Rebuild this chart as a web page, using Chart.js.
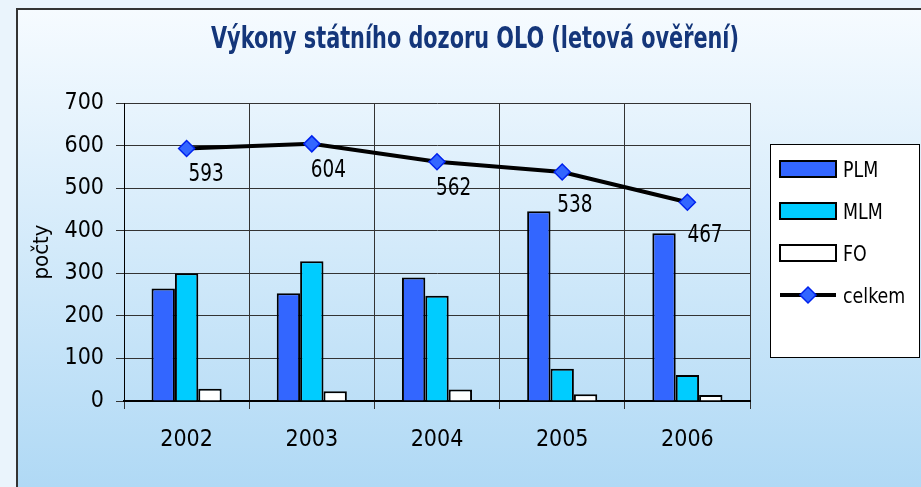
<!DOCTYPE html>
<html lang="cs">
<head>
<meta charset="utf-8">
<title>Výkony státního dozoru OLO</title>
<script src="https://cdn.jsdelivr.net/npm/chart.js@4/dist/chart.umd.min.js"></script>
<style>
  html, body { margin: 0; padding: 0; background: #eaf4fc; }
  canvas { display: block; }
</style>
</head>
<body>
<canvas id="grafVykony" width="921" height="487"></canvas>
<script>
// --- Data ---
const roky = ['2002', '2003', '2004', '2005', '2006'];
const plm = [264, 253, 290, 446, 394];
const mlm = [300, 328, 247, 76, 61];
const fo = [29, 23, 27, 16, 14];
const celkem = [593, 604, 562, 538, 467];
const osaY = { min: 0, max: 700, krok: 100 };
const nadpis = 'Výkony státního dozoru OLO (letová ověření)';

const PISMO = "'DejaVu Sans Condensed', 'Liberation Sans Narrow', sans-serif";

// Text stažený do šířky (úzké písmo)
function uzkyText(ctx, text, x, y, sx, align) {
  ctx.save();
  ctx.translate(x, y);
  ctx.scale(sx, 1);
  ctx.textAlign = align;
  ctx.fillText(text, 0, 0);
  ctx.restore();
}

// --- Pozadí, rámeček a nadpis ---
const pozadi = {
  id: 'pozadi',
  beforeDraw(chart) {
    const ctx = chart.ctx;
    const w = chart.width, h = chart.height;
    ctx.save();
    ctx.fillStyle = '#eaf4fc';
    ctx.fillRect(0, 0, w, h);
    const g = ctx.createLinearGradient(0, 9, 0, h);
    g.addColorStop(0, '#f6fbff');
    g.addColorStop(1, '#b0d9f5');
    ctx.fillStyle = g;
    ctx.fillRect(17, 9, w - 17, h - 9);
    ctx.strokeStyle = '#333333';
    ctx.lineWidth = 2;
    ctx.beginPath();
    ctx.moveTo(17, h);
    ctx.lineTo(17, 9);
    ctx.lineTo(w, 9);
    ctx.stroke();

    ctx.fillStyle = '#14367a';
    ctx.font = 'bold 31px ' + PISMO;
    ctx.textBaseline = 'alphabetic';
    uzkyText(ctx, nadpis, 475, 48, 0.746, 'center');
    ctx.restore();
  }
};

// --- Popisky hodnot u čáry "celkem" ---
const popiskyHodnot = {
  id: 'popiskyHodnot',
  afterDatasetsDraw(chart, args, opts) {
    const ctx = chart.ctx;
    const meta = chart.getDatasetMeta(opts.dataset);
    const data = chart.data.datasets[opts.dataset].data;
    ctx.save();
    ctx.font = '25px ' + PISMO;
    ctx.fillStyle = '#000';
    ctx.textBaseline = 'alphabetic';
    meta.data.forEach((bod, i) => {
      const [dx, dy] = opts.posun[i];
      uzkyText(ctx, String(data[i]), bod.x + dx, bod.y + dy, 0.82, 'left');
    });
    ctx.restore();
  }
};

// --- Legenda v rámečku vpravo ---
const legendaBox = {
  id: 'legendaBox',
  afterDraw(chart, args, opts) {
    const ctx = chart.ctx;
    const { x, y, w, h, krok } = opts;
    ctx.save();
    ctx.fillStyle = '#ffffff';
    ctx.fillRect(x, y, w, h);
    ctx.strokeStyle = '#000';
    ctx.lineWidth = 1;
    ctx.strokeRect(x + 0.5, y + 0.5, w, h);
    ctx.font = '22px ' + PISMO;
    ctx.textBaseline = 'alphabetic';
    chart.data.datasets.forEach((ds, i) => {
      const cy = y + 25 + i * krok;
      if (ds.type === 'line') {
        const r = ds.pointRadius;
        ctx.strokeStyle = ds.borderColor;
        ctx.lineWidth = ds.borderWidth;
        ctx.beginPath();
        ctx.moveTo(x + 10, cy);
        ctx.lineTo(x + 66, cy);
        ctx.stroke();
        ctx.fillStyle = ds.pointBackgroundColor;
        ctx.strokeStyle = ds.pointBorderColor;
        ctx.lineWidth = ds.pointBorderWidth;
        ctx.beginPath();
        ctx.moveTo(x + 38 - r, cy);
        ctx.lineTo(x + 38, cy - r);
        ctx.lineTo(x + 38 + r, cy);
        ctx.lineTo(x + 38, cy + r);
        ctx.closePath();
        ctx.fill();
        ctx.stroke();
      } else {
        ctx.fillStyle = ds.backgroundColor;
        ctx.strokeStyle = '#000';
        ctx.lineWidth = 2;
        ctx.fillRect(x + 10, cy - 8, 56, 16);
        ctx.strokeRect(x + 10, cy - 8, 56, 16);
      }
      ctx.fillStyle = '#000';
      uzkyText(ctx, ds.label, x + 73, cy + 8, 0.88, 'left');
    });
    ctx.restore();
  }
};

const sloupec = (label, data, barva) => ({
  type: 'bar',
  label,
  data,
  backgroundColor: barva,
  borderColor: '#000',
  borderWidth: 2,
  categoryPercentage: 0.56,
  barPercentage: 1.0,
  order: 1
});

new Chart(document.getElementById('grafVykony'), {
  data: {
    labels: roky,
    datasets: [
      sloupec('PLM', plm, '#3366ff'),
      sloupec('MLM', mlm, '#00ccff'),
      sloupec('FO', fo, '#ffffff'),
      {
        type: 'line',
        label: 'celkem',
        data: celkem,
        borderColor: '#000',
        borderWidth: 4,
        pointStyle: 'rectRot',
        pointRadius: 8,
        pointBorderWidth: 1.5,
        pointBackgroundColor: '#3366ff',
        pointBorderColor: '#0022ee',
        tension: 0,
        order: 0
      }
    ]
  },
  options: {
    responsive: false,
    devicePixelRatio: 1,
    animation: false,
    layout: { padding: { left: 28, right: 0, top: 103, bottom: 0 } },
    plugins: {
      legend: { display: false },
      tooltip: { enabled: false },
      title: { display: false },
      popiskyHodnot: {
        dataset: 3,
        posun: [[2, 32], [-1, 33], [-1, 33], [-5, 40], [0, 40]]
      },
      legendaBox: { x: 770, y: 144, w: 149, h: 213, krok: 42 }
    },
    scales: {
      x: {
        grid: { color: '#333', lineWidth: 1, offset: true, tickLength: 8 },
        border: { color: '#000', width: 2 },
        ticks: { color: '#000', font: { family: PISMO, size: 23 }, padding: 17 },
        afterFit(scale) { scale.height = 86; }
      },
      y: {
        min: osaY.min,
        max: osaY.max,
        grid: { color: '#333', lineWidth: 1, tickLength: 8 },
        border: { color: '#000', width: 1 },
        ticks: { stepSize: osaY.krok, color: '#000', font: { family: PISMO, size: 23 }, padding: 12 },
        title: {
          display: true,
          text: 'počty',
          color: '#000',
          font: { family: PISMO, size: 22 },
          padding: { top: 1, bottom: 0 }
        },
        afterFit(scale) { scale.width = 96; }
      },
      vpravo: {
        type: 'linear',
        position: 'right',
        display: true,
        grid: { display: false },
        border: { display: false },
        ticks: { display: false },
        afterFit(scale) { scale.width = 171; }
      }
    }
  },
  plugins: [pozadi, popiskyHodnot, legendaBox]
});
</script>
</body>
</html>
